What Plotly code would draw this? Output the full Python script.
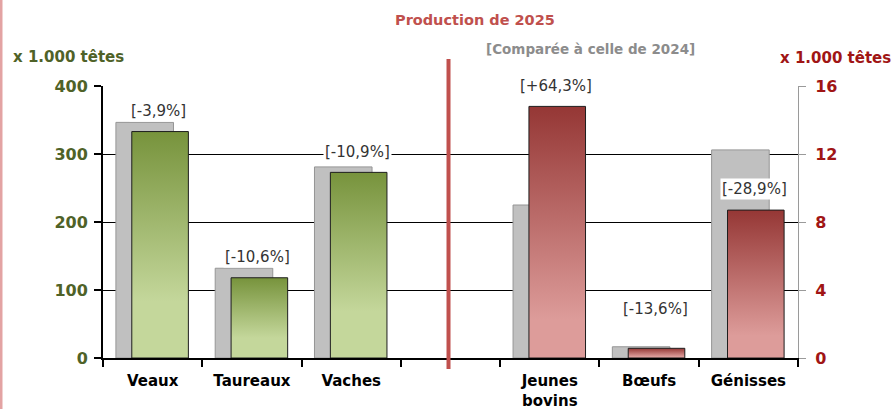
import plotly.graph_objects as go

# Production data (x 1.000 têtes)
categories = ["Veaux", "Taureaux", "Vaches", "Jeunes<br>bovins", "Bœufs", "Génisses"]
prod_2024 = [346.5, 132, 281, 9.0, 0.66, 12.24]
prod_2025 = [333, 118, 273, 14.8, 0.57, 8.70]
variation = ["[-3,9%]", "[-10,6%]", "[-10,9%]", "[+64,3%]", "[-13,6%]", "[-28,9%]"]
on_right_axis = [False, False, False, True, True, True]

# Vertical anchor of each variation label (in its own axis units)
label_y = [363, 148, 303, 16.0, 2.9, 9.95]

FONT = "DejaVu Sans"
GREEN_TXT = "#4f6228"
RED_TXT = "#a01515"

# slot positions along x: a blank slot separates the two groups
slots = [i if i < 3 else i + 1 for i in range(len(categories))]

GRAY_OFF, GRAY_W = -0.37, 0.58
BAR_OFF, BAR_W = -0.21, 0.57

fig = go.Figure()

# 2024 bars (grey, behind)
for right in (False, True):
    idx = [i for i in range(len(categories)) if on_right_axis[i] == right]
    fig.add_trace(go.Bar(
        x=[slots[i] for i in idx], y=[prod_2024[i] for i in idx],
        offset=GRAY_OFF, width=GRAY_W,
        marker=dict(color="#c0c0c0", line=dict(color="#959595", width=1)),
        yaxis="y2" if right else "y", showlegend=False, hoverinfo="skip",
    ))

# 2025 bars with vertical gradient
for i, v in enumerate(prod_2025):
    p = slots[i]
    if on_right_axis[i]:
        scale = [[0, "#dd9c9a"], [0.15, "#dd9c9a"], [1, "#953735"]]
    else:
        scale = [[0, "#c4d79b"], [0.25, "#c4d79b"], [1, "#77933c"]]
    x0, x1 = p + BAR_OFF, p + BAR_OFF + BAR_W
    fig.add_trace(go.Scatter(
        x=[x0, x0, x1, x1, x0], y=[0, v, v, 0, 0],
        mode="lines", fill="toself",
        fillgradient=dict(type="vertical", colorscale=scale, start=0, stop=v),
        line=dict(color="#1e1e1e", width=1),
        yaxis="y2" if on_right_axis[i] else "y",
        showlegend=False, hoverinfo="skip",
    ))

# Variation labels
for i, txt in enumerate(variation):
    fig.add_annotation(
        x=slots[i] + 0.06, y=label_y[i],
        yref="y2" if on_right_axis[i] else "y",
        text=txt, showarrow=False, bgcolor="white", borderpad=1,
        font=dict(family=FONT, size=15, color="#333333"),
    )

W, H = 892, 409
L, R, T, B = 103, 94, 86, 51
pw, ph = W - L - R, H - T - B

# Titles and axis captions (pixel centres converted to paper coordinates)
annots = [
    dict(text="<b>Production de 2025</b>", x=475, y=20, color="#c0504d", size=14.5),
    dict(text="<b>[Comparée à celle de 2024]</b>", x=590, y=49, color="#8c8c8c", size=13.5),
    dict(text="<b>x 1.000 têtes</b>", x=68, y=57, color=GREEN_TXT, size=15),
    dict(text="<b>x 1.000 têtes</b>", x=835, y=58, color=RED_TXT, size=15),
]
for a in annots:
    fig.add_annotation(
        x=(a["x"] - L) / pw, y=(H - B - a["y"]) / ph, xref="paper", yref="paper",
        text=a["text"], showarrow=False, xanchor="center", yanchor="middle",
        font=dict(family=FONT, size=a["size"], color=a["color"]),
    )

# Separator between the two groups and left frame edge
fig.add_shape(type="line", xref="x", yref="paper", x0=2.98, x1=2.98,
              y0=-11 / ph, y1=(H - B - 59) / ph,
              line=dict(color="#c0504d", width=4))
fig.add_shape(type="line", xref="paper", yref="paper", x0=-(L - 1) / pw, x1=-(L - 1) / pw,
              y0=-B / ph - 0.1, y1=(H - B) / ph + 0.1,
              line=dict(color="#e3a3a3", width=3))

fig.update_layout(
    width=W, height=H, margin=dict(l=L, r=R, t=T, b=B, autoexpand=False),
    paper_bgcolor="white", plot_bgcolor="white",
    barmode="overlay", showlegend=False,
    font=dict(family=FONT),
    xaxis=dict(
        range=[-0.5, 6.5], tickmode="array", tickvals=slots, ticktext=categories,
        ticks="", showline=True, linecolor="black", linewidth=2,
        showgrid=False, zeroline=False, ticklabelstandoff=8, automargin=False,
        tickfont=dict(family=FONT, size=15, color="black", weight="bold"),
        minor=dict(tickmode="array", tickvals=[k - 0.5 for k in range(8)],
                   ticks="outside", ticklen=7, tickcolor="black", tickwidth=2,
                   showgrid=False),
    ),
    yaxis=dict(
        range=[0, 400], tickmode="array", tickvals=[0, 100, 200, 300, 400],
        showgrid=True, gridcolor="black", gridwidth=1,
        showline=True, linecolor="black", linewidth=2,
        ticks="outside", ticklen=7, tickcolor="black", tickwidth=2,
        zeroline=False, ticklabelstandoff=3, automargin=False,
        tickfont=dict(family=FONT, size=16, color=GREEN_TXT, weight="bold"),
    ),
    yaxis2=dict(
        overlaying="y", side="right", range=[0, 16],
        tickmode="array", tickvals=[0, 4, 8, 12, 16],
        showgrid=False, showline=True, linecolor="#9a9a9a", linewidth=1,
        ticks="outside", ticklen=7, tickcolor="#9a9a9a", tickwidth=1,
        zeroline=False, ticklabelstandoff=6, automargin=False,
        tickfont=dict(family=FONT, size=16, color=RED_TXT, weight="bold"),
    ),
)

fig.write_html("out.html")
